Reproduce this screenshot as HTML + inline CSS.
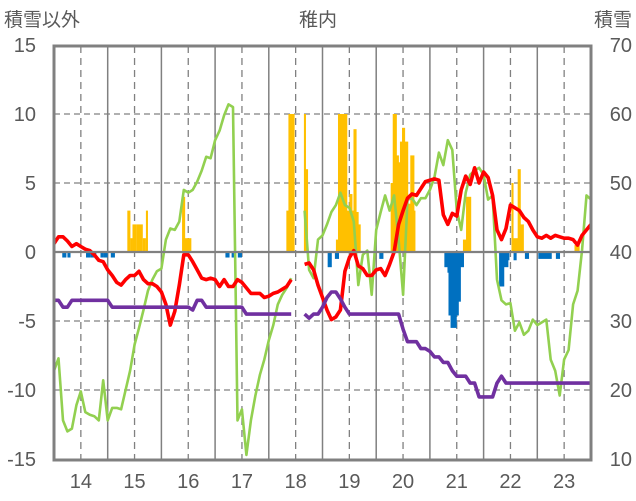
<!DOCTYPE html>
<html><head><meta charset="utf-8"><style>
html,body{margin:0;padding:0;background:#fff;}
svg{display:block;font-family:"Liberation Sans","Noto Sans CJK JP",sans-serif;}
</style></head><body>
<svg id="chart" width="636" height="501" viewBox="0 0 636 501" xmlns="http://www.w3.org/2000/svg">
<text x="4" y="26" font-size="19" fill="#595959">積雪以外</text>
<text x="318" y="26" font-size="19" fill="#595959" text-anchor="middle">稚内</text>
<text x="632" y="26" font-size="19" fill="#595959" text-anchor="end">積雪</text>
<g id="grid"></g>
<g id="bars"></g>
<g id="lines"></g>
<g id="axes"></g>
</svg>
<script>
// x tick labels (years) and y ticks
const yearLabels = [14,15,16,17,18,19,20,21,22,23];
const leftTicks = [15,10,5,0,-5,-10,-15];
const rightTicks = [70,60,50,40,30,20,10];
// monthly series starting mid-2013 (121 months)
const redVals = [0.6,1.1,1.1,0.8,0.4,0.6,0.4,0.2,0.1,-0.2,-0.6,-0.7,-1.3,-1.7,-2.2,-2.4,-2.0,-1.7,-1.7,-1.4,-2.0,-2.3,-2.3,-2.5,-2.9,-3.8,-5.3,-4.3,-2.4,-0.2,-0.2,-0.7,-1.3,-1.9,-2.0,-1.9,-2.0,-2.5,-2.0,-2.5,-2.5,-2.0,-2.2,-2.6,-3.0,-3.0,-3.0,-3.3,-3.2,-3.0,-2.9,-2.7,-2.5,-2.0,null,null,-0.9,-0.8,-1.3,-2.4,-3.3,-4.2,-4.9,-4.7,-4.2,-1.4,-0.4,0.1,-1.0,-1.2,-1.7,-1.7,-1.3,-1.2,-1.7,-0.9,0,2.0,3.0,3.9,4.2,4.1,4.6,5.1,5.2,5.3,5.2,2.7,2.0,2.8,2.6,4.5,5.5,4.9,6.1,5.0,5.8,5.4,4.1,1.6,0.9,1.7,3.4,3.2,3.0,2.5,2.2,1.6,1.1,1.0,1.2,1.0,1.2,1.1,1.0,1.0,0.9,0.5,1.2,1.6,2.0];
const greenVals = [-8.6,-7.7,-12.2,-13.0,-12.8,-11.1,-10.1,-11.6,-11.8,-11.9,-12.2,-9.3,-12.2,-11.3,-11.3,-11.4,-10.0,-8.6,-6.7,-5.5,-4.2,-2.8,-2.0,-1.4,-1.2,0.9,1.7,1.6,2.2,4.5,4.3,4.5,5.1,5.9,6.9,6.8,8.1,8.8,9.9,10.7,10.5,-12.2,-11.4,-14.7,-12.2,-10.4,-8.9,-7.8,-6.4,-5.3,-3.8,-3.1,-2.6,-1.9,null,null,3.0,-1.3,-1.9,0.9,1.2,2.0,2.9,3.4,4.3,3.4,3.2,2.2,-2.4,-0.2,0.1,-3.1,1.6,2.9,4.1,3.0,4.1,0.9,-3.1,3.8,3.9,3.4,3.9,3.9,4.5,5.4,7.2,6.3,8.1,7.4,3.0,1.6,4.3,5.6,5.9,6.1,5.6,3.8,4.1,-2.0,-3.5,-3.8,-3.7,-5.7,-5.1,-6.0,-5.7,-4.9,-5.3,-5.1,-4.9,-7.8,-8.6,-10.4,-7.8,-7.1,-3.8,-2.8,0.1,4.1,3.8];
const purpleVals = [-3.5,-3.5,-4.0,-4.0,-3.5,-3.5,-3.5,-3.5,-3.5,-3.5,-3.5,-3.5,-3.5,-4.0,-4.0,-4.0,-4.0,-4.0,-4.0,-4.0,-4.0,-4.0,-4.0,-4.0,-4.0,-4.0,-4.0,-4.0,-4.0,-4.0,-4.0,-4.2,-3.5,-3.5,-4.0,-4.0,-4.0,-4.0,-4.0,-4.0,-4.0,-4.0,-4.0,-4.5,-4.5,-4.5,-4.5,-4.5,-4.5,-4.5,-4.5,-4.5,-4.5,-4.5,null,null,-4.5,-4.8,-4.5,-4.5,-4.0,-3.3,-2.9,-2.9,-3.4,-4.0,-4.5,-4.5,-4.5,-4.5,-4.5,-4.5,-4.5,-4.5,-4.5,-4.5,-4.5,-4.5,-5.6,-6.5,-6.5,-6.5,-7.0,-7.0,-7.2,-7.6,-7.6,-8.0,-8.0,-8.6,-9.0,-9.0,-9.0,-9.5,-9.5,-10.5,-10.5,-10.5,-10.5,-9.5,-9.0,-9.5,-9.5,-9.5,-9.5,-9.5,-9.5,-9.5,-9.5,-9.5,-9.5,-9.5,-9.5,-9.5,-9.5,-9.5,-9.5,-9.5,-9.5,-9.5,-9.5];
// weekly bars: start week, end week, value
const posStart = [71,74,76,80,86,89,124,126,225,227,242,243,273,275,283,286,288,290,292,294,326,328,331,333,335,337,339,342,345,348,396,399,443,444,449,451,504];
const posEnd   = [73,75,79,85,88,90,126,132,227,232,243,245,275,283,286,288,290,292,294,296,328,331,333,335,337,339,342,345,348,349,399,403,444,449,451,454,508];
const posVals  = [3,1,2,2,1,3,4,1,3,10,10,6,0.9,10,3,4.2,3,8.9,2.9,2,5,10,7,6.5,8,9,8,3.5,7,3,0.9,4,5,1,6,2,0.5];
const negStart = [8,13,31,35,45,48,55,166,172,178,265,272,315,378,381,382,384,389,391,393,431,435,439,445,456,469,486];
const negEnd   = [11,15,34,40,47,51,58,169,175,181,268,275,318,381,382,384,389,391,393,396,435,439,440,447,459,481,489];
const negVals  = [-0.4,-0.4,-0.4,-0.4,-0.4,-0.4,-0.4,-0.4,-0.4,-0.4,-1.1,-0.5,-0.5,-1.1,-1.5,-4.6,-5.5,-4.6,-3.6,-1.1,-2.5,-1.1,-0.6,-0.6,-0.5,-0.5,-0.5];

const NS='http://www.w3.org/2000/svg';
const L=54,R=591,T=46,B=460;
const yS=v=>252-(v)*(B-T)/30;
const xYear=y=>L+(y-13.5)*(R-L)/10;
const xMonth=i=>L+i*(R-L)/120;
const xWeek=w=>L+w*(R-L)/520;
function mk(tag,attrs,parent){const e=document.createElementNS(NS,tag);for(const k in attrs)e.setAttribute(k,attrs[k]);parent.appendChild(e);return e;}
const grid=document.getElementById('grid'),bars=document.getElementById('bars'),lines=document.getElementById('lines'),axes=document.getElementById('axes');
// horizontal gridlines
leftTicks.forEach(v=>{
  if(v===15||v===-15||v===0)return;
  const l=mk('line',{x1:L,x2:R,y1:yS(v),y2:yS(v),stroke:'#808080','stroke-width':1.3,'stroke-dasharray':'6,4'},grid);
  
  
});
// vertical gridlines
for(let k=0;k<10;k++){
  const xd=xYear(14+k);
  const d=mk('line',{x1:xd,x2:xd,y1:T,y2:B,stroke:'#808080','stroke-width':1.3,'stroke-dasharray':'7,5'},grid);
  
  
  if(k<9){const xs=xYear(14.5+k);
  const s=mk('line',{x1:xs,x2:xs,y1:T,y2:B,stroke:'#808080','stroke-width':1.5},grid);
  
  }
}
// bars
function drawBars(st,en,vals,color,name){
  for(let i=0;i<vals.length;i++){
    const x1=xWeek(st[i]),x2=xWeek(en[i]+1);
    const y0=yS(0),y1=yS(vals[i]);
    const r=mk('rect',{x:x1,y:Math.min(y0,y1),width:Math.max(1,x2-x1),height:Math.abs(y1-y0),fill:color},bars);
    
    
  }
}
drawBars(posStart,posEnd,posVals,'#ffc000','snow-bar-positive');
drawBars(negStart,negEnd,negVals,'#0070c0','snow-bar-negative');
// zero line
const z=mk('line',{x1:L,x2:R,y1:yS(0),y2:yS(0),stroke:'#808080','stroke-width':2.2},axes);


// lines
function drawLine(vals,color,w,name){
  let d='',pen=false;
  vals.forEach((v,i)=>{
    if(v===null){pen=false;return;}
    d+=(pen?'L':'M')+xMonth(i).toFixed(1)+','+yS(v).toFixed(1);pen=true;
  });
  const p=mk('path',{d:d,fill:'none',stroke:color,'stroke-width':w,'stroke-linejoin':'round'},lines);
  
  
}
drawLine(greenVals,'#92d050',2.6,'green-series-line');
drawLine(redVals,'#ff0000',3.6,'red-series-line');
drawLine(purpleVals,'#7030a0',3.6,'purple-series-line');
// frame
const f=mk('rect',{x:L,y:T,width:R-L,height:B-T,fill:'none',stroke:'#808080','stroke-width':3},axes);


// tick labels
leftTicks.forEach(v=>{
  const t=mk('text',{x:36,y:yS(v)+7,'font-size':20,fill:'#595959','text-anchor':'end'},axes);
  t.textContent=String(v);
  
  
});
rightTicks.forEach((v,i)=>{
  const t=mk('text',{x:632,y:yS(leftTicks[i])+7,'font-size':20,fill:'#595959','text-anchor':'end'},axes);
  t.textContent=String(v);
  
  
});
yearLabels.forEach(y=>{
  const t=mk('text',{x:xYear(y),y:488,'font-size':20,fill:'#595959','text-anchor':'middle'},axes);
  t.textContent=String(y);
  
  
});
</script>
</body></html>
